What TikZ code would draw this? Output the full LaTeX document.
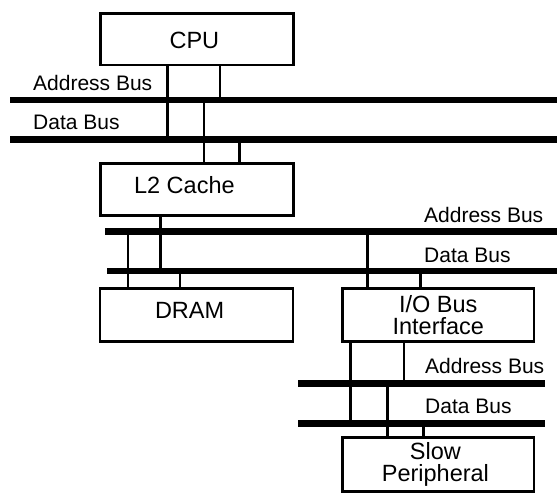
\documentclass[tikz,border=0pt]{standalone}
\usepackage{fontspec}
\setmainfont{Liberation Sans}
\begin{document}
\begin{tikzpicture}[x=1pt,y=-1pt,
  unit/.style={draw=black, line width=2.5pt, inner sep=0pt, outer sep=0pt, font=\fontsize{23.5}{22.7}\selectfont},
  leftunit/.style={unit, minimum width=193pt},
  rightunit/.style={unit, minimum width=191.5pt},
  bus/.style={fill=black, inner sep=0pt, outer sep=0pt, minimum height=6.7pt, anchor=west},
  wire/.style={line width=2.6pt},
  buslabel/.style={font=\fontsize{21}{24}\selectfont, inner sep=0pt, anchor=base west}]
\useasboundingbox (0,0) rectangle (557,494);

% units
\node[leftunit, minimum height=51.3pt, text height=18.2pt, text depth=0pt] (cpu) at (196.9,39.35) {\hspace*{-5pt}CPU};
\node[leftunit, minimum height=51.8pt, text height=16.8pt, text depth=9.4pt] (l2) at (196.9,189.4) {\hspace*{-25pt}L2 Cache};
\node[leftunit, minimum height=52.8pt, text height=16.8pt, text depth=9.4pt] (dram) at (196.6,315.1) {\hspace*{-14pt}DRAM};
\node[rightunit, minimum height=52.8pt, align=center] (io) at (438.3,315.1) {I/O Bus\\Interface};
\node[rightunit, minimum height=53.8pt, align=center, font=\fontsize{23.5}{22.3}\selectfont] (sp) at (438.4,464.4) {\hspace*{-6pt}Slow\\\hspace*{-6pt}Peripheral};

% buses
\node[bus, minimum width=547pt] (a1) at (10,100) {};
\node[bus, minimum width=547pt] (d1) at (10,139.5) {};
\node[bus, minimum width=452pt] (a2) at (105,231.5) {};
\node[bus, minimum width=450.3pt] (d2) at (106.7,271) {};
\node[bus, minimum width=246.7pt] (a3) at (298.3,383.3) {};
\node[bus, minimum width=246.7pt] (d3) at (298.3,423.3) {};

% bus labels
\node[buslabel] (la1) at (33,91) {Address Bus};
\node[buslabel] (ld1) at (33,130) {Data Bus};
\node[buslabel] (la2) at (424,223) {Address Bus};
\node[buslabel] (ld2) at (424,263) {Data Bus};
\node[buslabel] (la3) at (425,373.5) {Address Bus};
\node[buslabel] (ld3) at (425,413.5) {Data Bus};

% wire x positions
\coordinate (v1) at (167.4,0);
\coordinate (v2) at (220,0);
\coordinate (v3) at (204,0);
\coordinate (v4) at (239.6,0);
\coordinate (v5) at (160.5,0);
\coordinate (v6) at (128,0);
\coordinate (v7) at (180,0);
\coordinate (v8) at (367.2,0);
\coordinate (v9) at (420.2,0);
\coordinate (v10) at (350.7,0);
\coordinate (v11) at (404,0);
\coordinate (v12) at (387.5,0);
\coordinate (v13) at (423.2,0);

% wires
\draw[wire] (cpu.south -| v1) -- (v1 |- d1.center);
\draw[wire] (cpu.south -| v2) -- (v2 |- a1.center);
\draw[wire] (a1.center -| v3) -- (v3 |- l2.north);
\draw[wire] (d1.center -| v4) -- (v4 |- l2.north);
\draw[wire] (l2.south -| v5) -- (v5 |- d2.center);
\draw[wire] (a2.center -| v6) -- (v6 |- dram.north);
\draw[wire] (d2.center -| v7) -- (v7 |- dram.north);
\draw[wire] (a2.center -| v8) -- (v8 |- io.north);
\draw[wire] (d2.center -| v9) -- (v9 |- io.north);
\draw[wire] (io.south -| v10) -- (v10 |- d3.center);
\draw[wire] (io.south -| v11) -- (v11 |- a3.center);
\draw[wire] (a3.center -| v12) -- (v12 |- sp.north);
\draw[wire] (d3.center -| v13) -- (v13 |- sp.north);
\end{tikzpicture}
\end{document}
